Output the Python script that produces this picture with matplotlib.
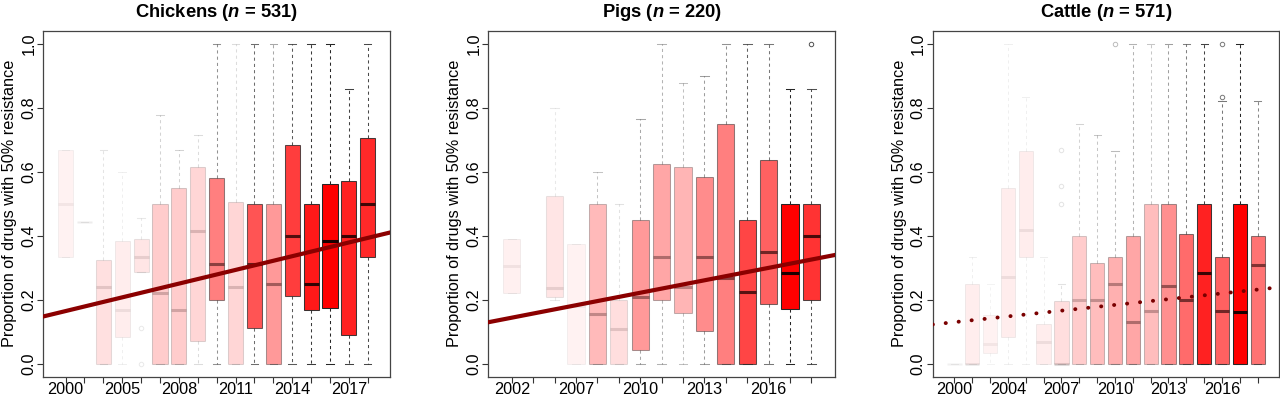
import numpy as np
import matplotlib
matplotlib.use("Agg")
import matplotlib.pyplot as plt

plt.rcParams['font.family'] = ['Liberation Sans', 'DejaVu Sans']
plt.rcParams['mathtext.fontset'] = 'custom'
plt.rcParams['mathtext.it'] = 'Liberation Sans:italic:bold'
plt.rcParams['mathtext.rm'] = 'Liberation Sans:bold'

# ---------------- Chickens ----------------
ch_years = [2000, 2003, 2004, 2005, 2006, 2007, 2008, 2009, 2010, 2011, 2012, 2013, 2014, 2015, 2016, 2017, 2018]
ch_q1 = [0.333, 0.444, 0.0, 0.083, 0.286, 0.0, 0.0, 0.071, 0.2, 0.0, 0.111, 0.0, 0.211, 0.167, 0.174, 0.091, 0.333]
ch_med = [0.5, 0.444, 0.241, 0.167, 0.333, 0.222, 0.167, 0.415, 0.313, 0.24, 0.313, 0.25, 0.4, 0.25, 0.383, 0.4, 0.5]
ch_q3 = [0.667, 0.444, 0.325, 0.383, 0.389, 0.5, 0.55, 0.614, 0.58, 0.505, 0.5, 0.5, 0.683, 0.5, 0.56, 0.571, 0.706]
ch_lo = [0.333, 0.444, 0.0, 0.0, 0.286, 0.0, 0.0, 0.0, 0.0, 0.0, 0.0, 0.0, 0.0, 0.0, 0.0, 0.0, 0.0]
ch_hi = [0.667, 0.444, 0.667, 0.6, 0.455, 0.778, 0.667, 0.714, 1.0, 1.0, 1.0, 1.0, 1.0, 1.0, 1.0, 0.857, 1.0]
ch_fliers = [[], [], [], [], [0.111, 0.0], [], [], [], [], [], [], [], [], [], [], [], []]
ch_alpha = [0.05, 0.04, 0.12, 0.07, 0.1, 0.2, 0.2, 0.16, 0.5, 0.16, 0.67, 0.4, 0.76, 0.9, 1.0, 0.87, 0.84]

# ---------------- Pigs ----------------
pg_years = [2002, 2004, 2006, 2007, 2008, 2009, 2010, 2011, 2012, 2013, 2014, 2015, 2016, 2017, 2018]
pg_q1 = [0.222, np.nan, 0.21, 0.0, 0.0, 0.0, 0.042, 0.2, 0.16, 0.104, 0.0, 0.0, 0.187, 0.17, 0.2]
pg_med = [0.306, np.nan, 0.236, 0.18, 0.155, 0.11, 0.21, 0.333, 0.24, 0.333, 0.267, 0.223, 0.349, 0.285, 0.4]
pg_q3 = [0.389, np.nan, 0.525, 0.374, 0.5, 0.2, 0.449, 0.625, 0.613, 0.583, 0.75, 0.449, 0.637, 0.5, 0.5]
pg_lo = [0.222, np.nan, 0.2, 0.0, 0.0, 0.0, 0.0, 0.0, 0.0, 0.0, 0.0, 0.0, 0.0, 0.0, 0.0]
pg_hi = [0.389, np.nan, 0.8, 0.374, 0.6, 0.5, 0.764, 1.0, 0.877, 0.9, 1.0, 1.0, 1.0, 0.857, 0.857]
pg_fliers = [[], [], [], [], [], [], [], [], [], [], [], [], [], [], [1.0]]
pg_alpha = [0.06, 0.0, 0.1, 0.05, 0.27, 0.13, 0.4, 0.35, 0.29, 0.45, 0.5, 0.73, 0.62, 1.0, 0.8]

# ---------------- Cattle ----------------
ca_years = [2000, 2002, 2003, 2004, 2005, 2006, 2007, 2008, 2009, 2010, 2011, 2012, 2013, 2014, 2015, 2016, 2017, 2018]
ca_q1 = [0.0, 0.0, 0.034, 0.083, 0.334, 0.0, 0.0, 0.0, 0.0, 0.0, 0.0, 0.0, 0.0, 0.0, 0.0, 0.0, 0.0, 0.0]
ca_med = [0.0, 0.0, 0.062, 0.27, 0.418, 0.067, 0.0, 0.2, 0.2, 0.25, 0.131, 0.166, 0.244, 0.2, 0.285, 0.166, 0.161, 0.31]
ca_q3 = [0.0, 0.25, 0.153, 0.55, 0.666, 0.125, 0.195, 0.4, 0.316, 0.334, 0.4, 0.5, 0.5, 0.405, 0.5, 0.334, 0.5, 0.4]
ca_lo = [0.0, 0.0, 0.0, 0.0, 0.0, 0.0, 0.0, 0.0, 0.0, 0.0, 0.0, 0.0, 0.0, 0.0, 0.0, 0.0, 0.0, 0.0]
ca_hi = [0.0, 0.333, 0.25, 1.0, 0.834, 0.333, 0.25, 0.75, 0.714, 0.666, 1.0, 1.0, 1.0, 1.0, 1.0, 0.82, 1.0, 0.82]
ca_fliers = [[], [], [], [], [], [], [0.5, 0.556, 0.667], [], [], [1.0], [], [], [], [], [], [0.834, 1.0], [], []]
ca_alpha = [0.03, 0.07, 0.05, 0.07, 0.07, 0.07, 0.13, 0.2, 0.26, 0.31, 0.35, 0.26, 0.44, 0.58, 0.87, 0.62, 1.0, 0.55]

# trend lines (in box-position units): intercept at position 0, slope per position
titles = ["Chickens", "Pigs", "Cattle"]
sample_n = [531, 220, 571]
trend_intercept = [0.1506, 0.1313, 0.1243]
trend_slope = [0.01427, 0.01296, 0.00598]
trend_significant = [True, True, False]

y_ticks = [0.0, 0.2, 0.4, 0.6, 0.8, 1.0]
y_label = "Proportion of drugs with 50% resistance"

panels = [
    (ch_years, ch_q1, ch_med, ch_q3, ch_lo, ch_hi, ch_fliers, ch_alpha),
    (pg_years, pg_q1, pg_med, pg_q3, pg_lo, pg_hi, pg_fliers, pg_alpha),
    (ca_years, ca_q1, ca_med, ca_q3, ca_lo, ca_hi, ca_fliers, ca_alpha),
]

W, H = 1280, 395
fig = plt.figure(figsize=(W / 100, H / 100), dpi=100)
lefts = [43.3, 488.3, 932.7]
ax_w = 346.7
ax_top = 30.7
ax_bot = 376.7

FS = 11.7
for k, (years, q1, med, q3, lo, hi, fl, al) in enumerate(panels):
    ax = fig.add_axes([lefts[k] / W, 1 - ax_bot / H, ax_w / W, (ax_bot - ax_top) / H])
    n = len(years)
    pos = np.arange(1, n + 1)
    for i in range(n):
        if np.isnan(med[i]):
            continue
        a = al[i]
        edge = (0.15, 0.15, 0.15, a)
        stats = [dict(q1=q1[i], med=med[i], q3=q3[i], whislo=lo[i], whishi=hi[i], fliers=fl[i])]
        ax.bxp(stats, positions=[pos[i]], widths=0.8, capwidths=0.4, patch_artist=True,
               showfliers=True,
               boxprops=dict(facecolor=(1, 0, 0, a), edgecolor=edge, linewidth=0.75),
               whiskerprops=dict(color=edge, linewidth=0.75, linestyle=(0, (3, 3))),
               capprops=dict(color=edge, linewidth=0.75),
               medianprops=dict(color=(0.1, 0.0, 0.0, a), linewidth=2.2, solid_capstyle='butt'),
               flierprops=dict(marker='o', markersize=3.2, markerfacecolor='none',
                               markeredgecolor=edge, markeredgewidth=0.7),
               manage_ticks=False)
    # trend
    if trend_significant[k]:
        ax.axline((0, trend_intercept[k]), slope=trend_slope[k], color='#8B0000', lw=3.0, zorder=5)
    else:
        ax.axline((0, trend_intercept[k]), slope=trend_slope[k], color='#7A0000', lw=2.8, zorder=5,
                  linestyle=(0, (0.05, 3.3)), dash_capstyle='round')
    pad = 0.04 * n
    ax.set_xlim(0.5 - pad, n + 0.5 + pad)
    ax.set_ylim(-0.04, 1.04)
    ax.set_xticks(pos)
    ax.set_xticklabels([str(y) if i % 3 == 0 else '' for i, y in enumerate(years)])
    ax.set_yticks(y_ticks)
    ax.set_yticklabels([f"{v:.1f}" for v in y_ticks], rotation=90, va='center')
    ax.tick_params(axis='both', length=4, width=0.8, color='#333333', labelsize=FS, pad=1)
    ax.tick_params(axis='x', pad=0)
    for s in ax.spines.values():
        s.set_color('#444444')
        s.set_linewidth(0.9)
    ax.set_ylabel(y_label, fontsize=FS, labelpad=3)
    ax.set_title(f"{titles[k]} ($\\mathit{{n}}$ = {sample_n[k]})", fontsize=13.2, fontweight='bold', pad=10)

fig.savefig("out.png", dpi=100)
